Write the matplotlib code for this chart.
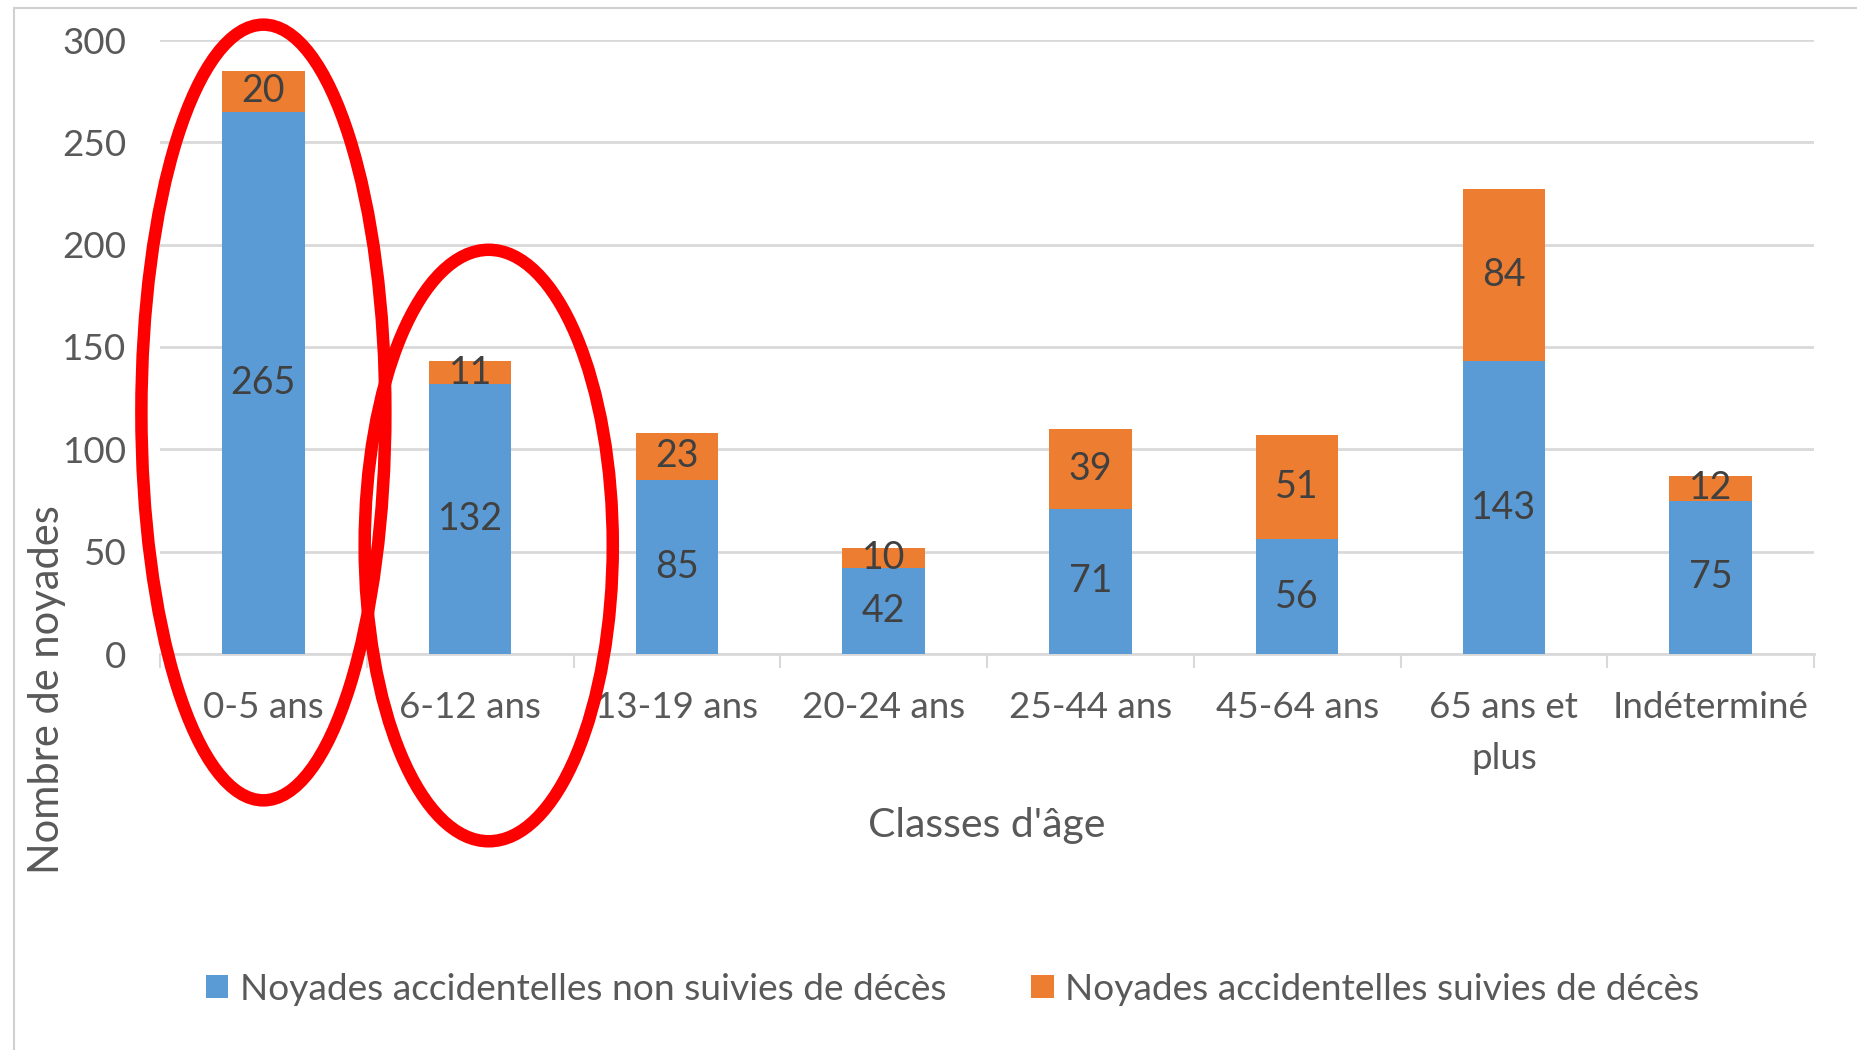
import matplotlib.pyplot as plt
from matplotlib.patches import Ellipse, Rectangle

# Data
categories = ["0-5 ans", "6-12 ans", "13-19 ans", "20-24 ans", "25-44 ans",
              "45-64 ans", "65 ans et\nplus", "Indéterminé"]
non_fatal = [265, 132, 85, 42, 71, 56, 143, 75]
fatal = [20, 11, 23, 10, 39, 51, 84, 12]
series_names = ["Noyades accidentelles non suivies de décès",
                "Noyades accidentelles suivies de décès"]

blue = "#5B9BD5"
orange = "#ED7D31"
grey_text = "#595959"

plt.rcParams["font.family"] = ["Lato", "DejaVu Sans"]

fig = plt.figure(figsize=(18.57, 10.5), dpi=100)
ax = fig.add_axes([160 / 1857, 1 - 654 / 1050, (1814 - 160) / 1857, (654 - 40) / 1050])

# Light frame around the chart area
fig.patches.append(Rectangle((14 / 1857, -0.01), 1.0, 1 - 8 / 1050 + 0.01,
                             transform=fig.transFigure, fill=False,
                             edgecolor="#D0D0D0", linewidth=1.5))

x = range(len(categories))
b1 = ax.bar(x, non_fatal, width=0.4, color=blue, label=series_names[0], zorder=3)
b2 = ax.bar(x, fatal, width=0.4, bottom=non_fatal, color=orange,
            label=series_names[1], zorder=3)
ax.bar_label(b1, label_type="center", fontsize=27, color="#404040")
ax.bar_label(b2, label_type="center", fontsize=27, color="#404040")

ax.set_xlim(-0.5, len(categories) - 0.5)
ax.set_ylim(0, 300)
ax.set_yticks(range(0, 301, 50))
ax.grid(axis="y", color="#D9D9D9", linewidth=2, zorder=0)
ax.tick_params(axis="y", length=0, pad=24, labelsize=26.5, labelcolor=grey_text)

ax.set_xticks(list(x))
ax.set_xticklabels(categories, linespacing=1.65)
ax.tick_params(axis="x", which="major", length=0, pad=27, labelsize=26.5,
               labelcolor=grey_text)
ax.set_xticks([i - 0.5 for i in range(len(categories) + 1)], minor=True)
ax.tick_params(axis="x", which="minor", length=10, width=1.5, color="#D9D9D9")

for side in ["top", "right", "left"]:
    ax.spines[side].set_visible(False)
ax.spines["bottom"].set_color("#D9D9D9")
ax.spines["bottom"].set_linewidth(2)

fig.text(987 / 1857, 1 - 825 / 1050, "Classes d'âge", ha="center", va="center",
         fontsize=29.5, color=grey_text)
fig.text(47 / 1857, 1 - 690 / 1050, "Nombre de noyades", ha="center", va="center",
         rotation=90, fontsize=30, color=grey_text)

fig.legend(loc="center", bbox_to_anchor=(0.513, 1 - 989 / 1050), ncol=2,
           frameon=False, fontsize=26.7, labelcolor=grey_text, handlelength=0.6,
           handleheight=0.6, handletextpad=0.3, columnspacing=2.3)

# Red highlight ellipses
ax.add_patch(Ellipse((0.0, 118), 1.18, 379, fill=False, edgecolor="red",
                     linewidth=9, clip_on=False, zorder=5))
ax.add_patch(Ellipse((1.09, 53), 1.2, 289, fill=False, edgecolor="red",
                     linewidth=9, clip_on=False, zorder=5))

fig.savefig("out.png", dpi=100)
